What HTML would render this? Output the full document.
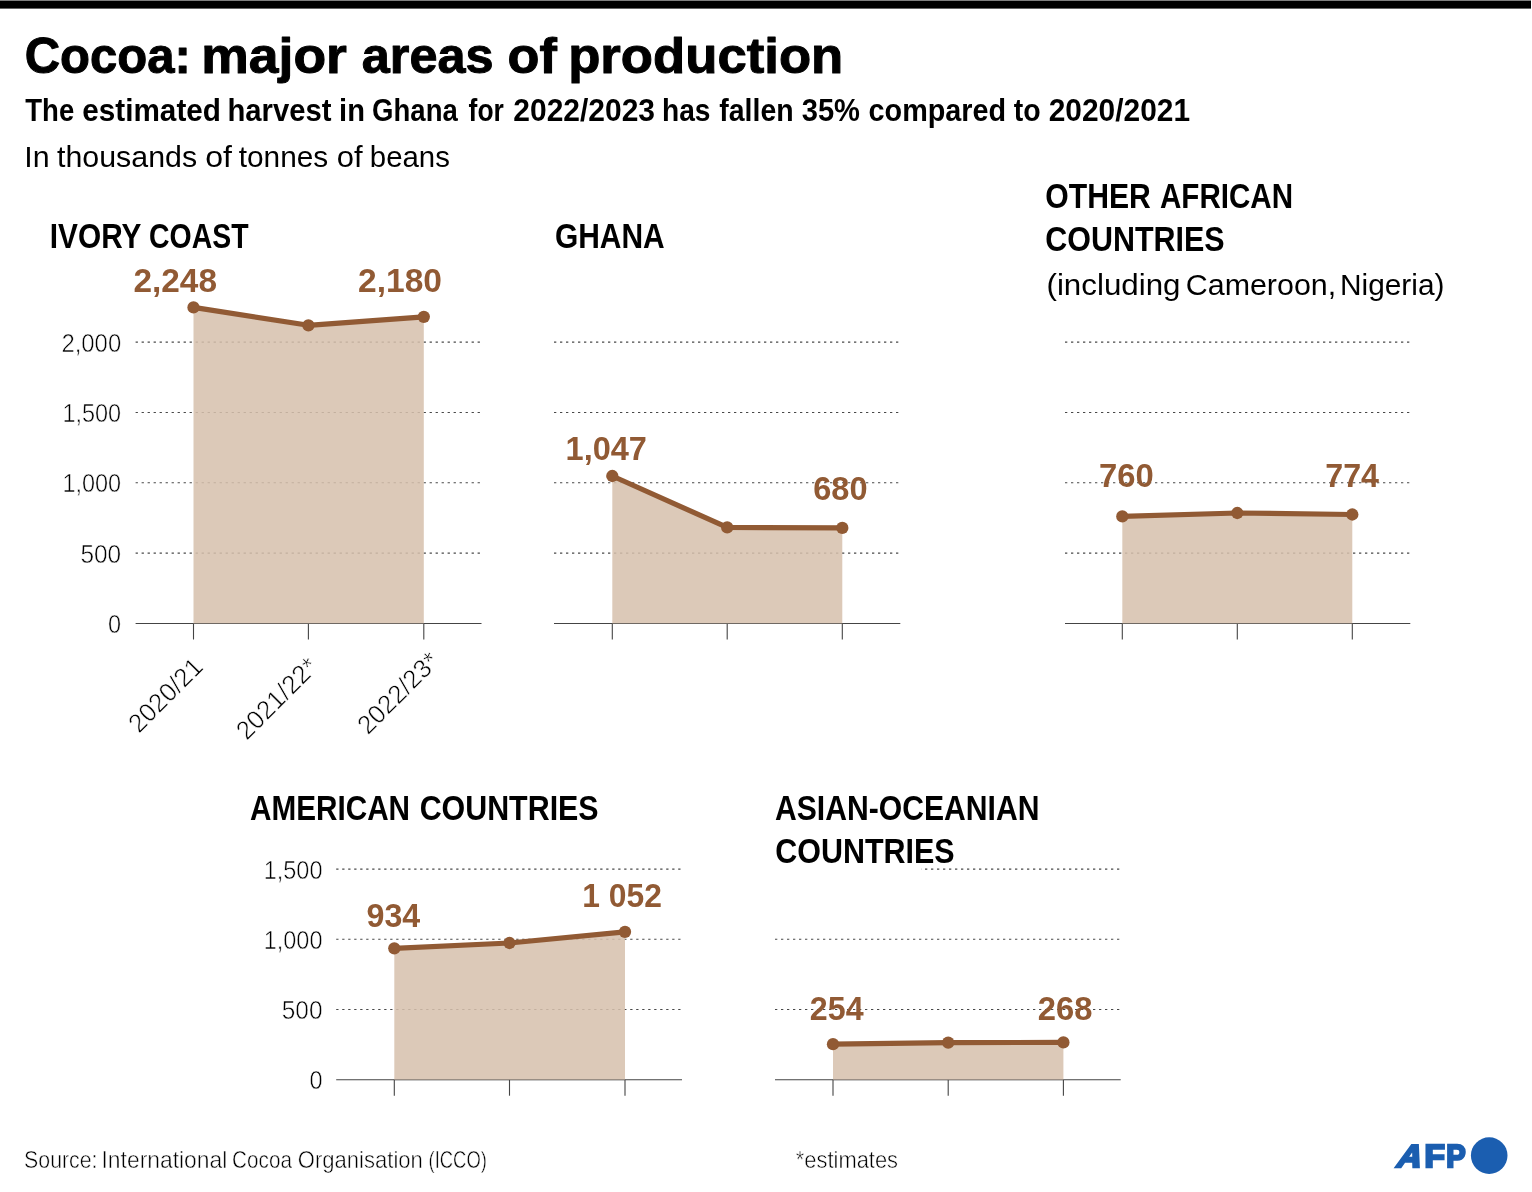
<!DOCTYPE html>
<html lang="en"><head><meta charset="utf-8"><title>Cocoa: major areas of production</title>
<style>
html,body{margin:0;padding:0;background:#fff;}
svg{display:block;font-family:"Liberation Sans",sans-serif;}
.g{stroke:#484848;stroke-width:1.1;stroke-dasharray:2.3 3.7;}
.ax{stroke:#444;stroke-width:1.1;}
.lt{stroke:#fff;stroke-width:0.55px;paint-order:fill stroke;}
.tb{stroke:#000;stroke-width:1px;stroke-linejoin:round;}
.th{stroke:#fff;stroke-width:0.35px;paint-order:fill stroke;}
.lt2{stroke:#fff;stroke-width:0.5px;paint-order:fill stroke;}
</style></head><body>
<svg width="1532" height="1192" viewBox="0 0 1532 1192">
<rect width="1532" height="1192" fill="#fff"/>
<rect x="0" y="0.5" width="1531" height="8.1" fill="#000"/>
<line x1="135.6" y1="553.15" x2="481.5" y2="553.15" class="g"/>
<line x1="135.6" y1="482.80" x2="481.5" y2="482.80" class="g"/>
<line x1="135.6" y1="412.45" x2="481.5" y2="412.45" class="g"/>
<line x1="135.6" y1="342.10" x2="481.5" y2="342.10" class="g"/>
<line x1="135.6" y1="623.5" x2="481.5" y2="623.5" class="ax"/>
<line x1="193.5" y1="623.5" x2="193.5" y2="639.5" class="ax"/>
<line x1="308.4" y1="623.5" x2="308.4" y2="639.5" class="ax"/>
<line x1="423.8" y1="623.5" x2="423.8" y2="639.5" class="ax"/>
<polygon points="193.5,623.5 193.5,307.4 308.4,325.3 423.8,316.8 423.8,623.5" fill="#d6c0ac" fill-opacity="0.86"/>
<line x1="193.5" y1="623.5" x2="423.8" y2="623.5" class="ax" stroke-opacity="0.3"/>
<polyline points="193.5,307.4 308.4,325.3 423.8,316.8" fill="none" stroke="#915a34" stroke-width="5.2" stroke-linejoin="round" stroke-linecap="round"/>
<circle cx="193.5" cy="307.4" r="6.15" fill="#915a34"/>
<circle cx="308.4" cy="325.3" r="6.15" fill="#915a34"/>
<circle cx="423.8" cy="316.8" r="6.15" fill="#915a34"/>
<line x1="554" y1="553.15" x2="900.3" y2="553.15" class="g"/>
<line x1="554" y1="482.80" x2="900.3" y2="482.80" class="g"/>
<line x1="554" y1="412.45" x2="900.3" y2="412.45" class="g"/>
<line x1="554" y1="342.10" x2="900.3" y2="342.10" class="g"/>
<line x1="554" y1="623.5" x2="900.3" y2="623.5" class="ax"/>
<line x1="612.3" y1="623.5" x2="612.3" y2="639.5" class="ax"/>
<line x1="727.2" y1="623.5" x2="727.2" y2="639.5" class="ax"/>
<line x1="842.3" y1="623.5" x2="842.3" y2="639.5" class="ax"/>
<polygon points="612.3,623.5 612.3,476 727.2,527.4 842.3,527.9 842.3,623.5" fill="#d6c0ac" fill-opacity="0.86"/>
<line x1="612.3" y1="623.5" x2="842.3" y2="623.5" class="ax" stroke-opacity="0.3"/>
<polyline points="612.3,476 727.2,527.4 842.3,527.9" fill="none" stroke="#915a34" stroke-width="5.2" stroke-linejoin="round" stroke-linecap="round"/>
<circle cx="612.3" cy="476" r="6.15" fill="#915a34"/>
<circle cx="727.2" cy="527.4" r="6.15" fill="#915a34"/>
<circle cx="842.3" cy="527.9" r="6.15" fill="#915a34"/>
<line x1="1065" y1="553.15" x2="1410.3" y2="553.15" class="g"/>
<line x1="1065" y1="482.80" x2="1410.3" y2="482.80" class="g"/>
<line x1="1065" y1="412.45" x2="1410.3" y2="412.45" class="g"/>
<line x1="1065" y1="342.10" x2="1410.3" y2="342.10" class="g"/>
<line x1="1065" y1="623.5" x2="1410.3" y2="623.5" class="ax"/>
<line x1="1122.3" y1="623.5" x2="1122.3" y2="639.5" class="ax"/>
<line x1="1237.3" y1="623.5" x2="1237.3" y2="639.5" class="ax"/>
<line x1="1352.3" y1="623.5" x2="1352.3" y2="639.5" class="ax"/>
<polygon points="1122.3,623.5 1122.3,516.4 1237.3,513 1352.3,514.5 1352.3,623.5" fill="#d6c0ac" fill-opacity="0.86"/>
<line x1="1122.3" y1="623.5" x2="1352.3" y2="623.5" class="ax" stroke-opacity="0.3"/>
<polyline points="1122.3,516.4 1237.3,513 1352.3,514.5" fill="none" stroke="#915a34" stroke-width="5.2" stroke-linejoin="round" stroke-linecap="round"/>
<circle cx="1122.3" cy="516.4" r="6.15" fill="#915a34"/>
<circle cx="1237.3" cy="513" r="6.15" fill="#915a34"/>
<circle cx="1352.3" cy="514.5" r="6.15" fill="#915a34"/>
<line x1="336.2" y1="1009.50" x2="682" y2="1009.50" class="g"/>
<line x1="336.2" y1="939.30" x2="682" y2="939.30" class="g"/>
<line x1="336.2" y1="869.10" x2="682" y2="869.10" class="g"/>
<line x1="336.2" y1="1079.7" x2="682" y2="1079.7" class="ax"/>
<line x1="394.3" y1="1079.7" x2="394.3" y2="1095.7" class="ax"/>
<line x1="509.5" y1="1079.7" x2="509.5" y2="1095.7" class="ax"/>
<line x1="625" y1="1079.7" x2="625" y2="1095.7" class="ax"/>
<polygon points="394.3,1079.7 394.3,948.3 509.5,943 625,931.8 625,1079.7" fill="#d6c0ac" fill-opacity="0.86"/>
<line x1="394.3" y1="1079.7" x2="625" y2="1079.7" class="ax" stroke-opacity="0.3"/>
<polyline points="394.3,948.3 509.5,943 625,931.8" fill="none" stroke="#915a34" stroke-width="5.2" stroke-linejoin="round" stroke-linecap="round"/>
<circle cx="394.3" cy="948.3" r="6.15" fill="#915a34"/>
<circle cx="509.5" cy="943" r="6.15" fill="#915a34"/>
<circle cx="625" cy="931.8" r="6.15" fill="#915a34"/>
<line x1="775" y1="1009.50" x2="1120.7" y2="1009.50" class="g"/>
<line x1="775" y1="939.30" x2="1120.7" y2="939.30" class="g"/>
<line x1="775" y1="869.10" x2="1120.7" y2="869.10" class="g"/>
<line x1="775" y1="1079.7" x2="1120.7" y2="1079.7" class="ax"/>
<line x1="833" y1="1079.7" x2="833" y2="1095.7" class="ax"/>
<line x1="948.2" y1="1079.7" x2="948.2" y2="1095.7" class="ax"/>
<line x1="1063.4" y1="1079.7" x2="1063.4" y2="1095.7" class="ax"/>
<polygon points="833,1079.7 833,1044.2 948.2,1042.7 1063.4,1042.4 1063.4,1079.7" fill="#d6c0ac" fill-opacity="0.86"/>
<line x1="833" y1="1079.7" x2="1063.4" y2="1079.7" class="ax" stroke-opacity="0.3"/>
<polyline points="833,1044.2 948.2,1042.7 1063.4,1042.4" fill="none" stroke="#915a34" stroke-width="5.2" stroke-linejoin="round" stroke-linecap="round"/>
<circle cx="833" cy="1044.2" r="6.15" fill="#915a34"/>
<circle cx="948.2" cy="1042.7" r="6.15" fill="#915a34"/>
<circle cx="1063.4" cy="1042.4" r="6.15" fill="#915a34"/>
<rect x="770" y="864" width="151.2" height="8" fill="#fff"/>
<text y="72.6" font-size="50.70" font-weight="bold" fill="#000" class="tb"><tspan x="24.66" textLength="166.26" lengthAdjust="spacingAndGlyphs">Cocoa:</tspan> <tspan x="201.34" textLength="145.53" lengthAdjust="spacingAndGlyphs">major</tspan> <tspan x="361.81" textLength="131.68" lengthAdjust="spacingAndGlyphs">areas</tspan> <tspan x="507.57" textLength="49.31" lengthAdjust="spacingAndGlyphs">of</tspan> <tspan x="568.18" textLength="275.10" lengthAdjust="spacingAndGlyphs">production</tspan></text>
<text y="120.6" font-size="30.71" font-weight="bold" fill="#000"><tspan x="25.30" textLength="48.97" lengthAdjust="spacingAndGlyphs">The</tspan> <tspan x="82.23" textLength="138.77" lengthAdjust="spacingAndGlyphs">estimated</tspan> <tspan x="227.50" textLength="104.02" lengthAdjust="spacingAndGlyphs">harvest</tspan> <tspan x="339.10" textLength="25.86" lengthAdjust="spacingAndGlyphs">in</tspan> <tspan x="372.10" textLength="85.67" lengthAdjust="spacingAndGlyphs">Ghana</tspan> <tspan x="468.60" textLength="35.26" lengthAdjust="spacingAndGlyphs">for</tspan> <tspan x="513.32" textLength="141.73" lengthAdjust="spacingAndGlyphs">2022/2023</tspan> <tspan x="661.97" textLength="48.52" lengthAdjust="spacingAndGlyphs">has</tspan> <tspan x="719.30" textLength="74.33" lengthAdjust="spacingAndGlyphs">fallen</tspan> <tspan x="801.70" textLength="58.28" lengthAdjust="spacingAndGlyphs">35%</tspan> <tspan x="868.56" textLength="137.58" lengthAdjust="spacingAndGlyphs">compared</tspan> <tspan x="1013.80" textLength="26.90" lengthAdjust="spacingAndGlyphs">to</tspan> <tspan x="1048.73" textLength="141.35" lengthAdjust="spacingAndGlyphs">2020/2021</tspan></text>
<text y="167.4" font-size="30.00" fill="#000"><tspan x="24.38" textLength="25.33" lengthAdjust="spacingAndGlyphs">In</tspan> <tspan x="57.00" textLength="140.11" lengthAdjust="spacingAndGlyphs">thousands</tspan> <tspan x="205.23" textLength="26.76" lengthAdjust="spacingAndGlyphs">of</tspan> <tspan x="238.70" textLength="89.59" lengthAdjust="spacingAndGlyphs">tonnes</tspan> <tspan x="336.77" textLength="25.85" lengthAdjust="spacingAndGlyphs">of</tspan> <tspan x="369.82" textLength="80.06" lengthAdjust="spacingAndGlyphs">beans</tspan></text>
<text y="248" font-size="35.29" font-weight="bold" fill="#000"><tspan x="49.82" textLength="91.12" lengthAdjust="spacingAndGlyphs">IVORY</tspan> <tspan x="149.09" textLength="99.44" lengthAdjust="spacingAndGlyphs">COAST</tspan></text>
<text y="248" font-size="35.29" font-weight="bold" fill="#000" x="554.95" textLength="109.75" lengthAdjust="spacingAndGlyphs">GHANA</text>
<text y="207.5" font-size="35.29" font-weight="bold" fill="#000"><tspan x="1045.34" textLength="105.56" lengthAdjust="spacingAndGlyphs">OTHER</tspan> <tspan x="1160.00" textLength="133.03" lengthAdjust="spacingAndGlyphs">AFRICAN</tspan></text>
<text y="250.5" font-size="35.29" font-weight="bold" fill="#000" x="1045.34" textLength="179.31" lengthAdjust="spacingAndGlyphs">COUNTRIES</text>
<text y="294.5" font-size="30.00" fill="#000"><tspan x="1046.46" textLength="134.10" lengthAdjust="spacingAndGlyphs">(including</tspan> <tspan x="1185.79" textLength="150.38" lengthAdjust="spacingAndGlyphs">Cameroon,</tspan> <tspan x="1340.01" textLength="104.47" lengthAdjust="spacingAndGlyphs">Nigeria)</tspan></text>
<text y="820" font-size="35.29" font-weight="bold" fill="#000"><tspan x="250.00" textLength="160.04" lengthAdjust="spacingAndGlyphs">AMERICAN</tspan> <tspan x="419.64" textLength="179.01" lengthAdjust="spacingAndGlyphs">COUNTRIES</tspan></text>
<text y="820" font-size="35.29" font-weight="bold" fill="#000" x="775.00" textLength="264.45" lengthAdjust="spacingAndGlyphs">ASIAN-OCEANIAN</text>
<text y="863" font-size="35.29" font-weight="bold" fill="#000" x="775.34" textLength="179.31" lengthAdjust="spacingAndGlyphs">COUNTRIES</text>
<text y="291.65000000000003" font-size="33.79" font-weight="bold" fill="#915a34" x="133.41" textLength="83.56" lengthAdjust="spacingAndGlyphs">2,248</text>
<text y="291.65000000000003" font-size="33.79" font-weight="bold" fill="#915a34" x="358.01" textLength="83.97" lengthAdjust="spacingAndGlyphs">2,180</text>
<text y="459.55" font-size="33.79" font-weight="bold" fill="#915a34" x="565.57" textLength="81.38" lengthAdjust="spacingAndGlyphs">1,047</text>
<text y="499.85" font-size="33.79" font-weight="bold" fill="#915a34" x="813.24" textLength="54.32" lengthAdjust="spacingAndGlyphs">680</text>
<text y="487.35" font-size="33.79" font-weight="bold" fill="#915a34" x="1099.03" textLength="54.73" lengthAdjust="spacingAndGlyphs">760</text>
<text y="487.35" font-size="33.79" font-weight="bold" fill="#915a34" x="1325.25" textLength="53.74" lengthAdjust="spacingAndGlyphs">774</text>
<text y="927.35" font-size="33.79" font-weight="bold" fill="#915a34" x="366.55" textLength="53.74" lengthAdjust="spacingAndGlyphs">934</text>
<text y="907.35" font-size="33.79" font-weight="bold" fill="#915a34" x="582.32" textLength="79.62" lengthAdjust="spacingAndGlyphs">1 052</text>
<text y="1019.5500000000001" font-size="33.79" font-weight="bold" fill="#915a34" x="809.85" textLength="53.74" lengthAdjust="spacingAndGlyphs">254</text>
<text y="1019.5500000000001" font-size="33.79" font-weight="bold" fill="#915a34" x="1037.83" textLength="54.73" lengthAdjust="spacingAndGlyphs">268</text>
<text y="1168.4" font-size="23.19" fill="#000" class="lt2"><tspan x="24.08" textLength="73.44" lengthAdjust="spacingAndGlyphs">Source:</tspan> <tspan x="101.53" textLength="125.81" lengthAdjust="spacingAndGlyphs">International</tspan> <tspan x="232.11" textLength="59.79" lengthAdjust="spacingAndGlyphs">Cocoa</tspan> <tspan x="297.85" textLength="125.00" lengthAdjust="spacingAndGlyphs">Organisation</tspan> <tspan x="428.50" textLength="58.37" lengthAdjust="spacingAndGlyphs">(ICCO)</tspan></text>
<text y="1168.4" font-size="23.19" fill="#000" class="lt2" x="795.80" textLength="102.25" lengthAdjust="spacingAndGlyphs">*estimates</text>
<text y="633.0" font-size="25.94" fill="#000" class="lt" x="108.09" textLength="13.09" lengthAdjust="spacingAndGlyphs">0</text>
<text y="562.6" font-size="25.94" fill="#000" class="lt" x="80.46" textLength="40.74" lengthAdjust="spacingAndGlyphs">500</text>
<text y="492.3" font-size="25.94" fill="#000" class="lt" x="62.39" textLength="58.79" lengthAdjust="spacingAndGlyphs">1,000</text>
<text y="422.0" font-size="25.94" fill="#000" class="lt" x="62.39" textLength="58.79" lengthAdjust="spacingAndGlyphs">1,500</text>
<text y="351.6" font-size="25.94" fill="#000" class="lt" x="61.38" textLength="59.81" lengthAdjust="spacingAndGlyphs">2,000</text>
<text y="1089.2" font-size="25.94" fill="#000" class="lt" x="309.39" textLength="13.09" lengthAdjust="spacingAndGlyphs">0</text>
<text y="1019.0" font-size="25.94" fill="#000" class="lt" x="281.76" textLength="40.74" lengthAdjust="spacingAndGlyphs">500</text>
<text y="948.8" font-size="25.94" fill="#000" class="lt" x="263.69" textLength="58.79" lengthAdjust="spacingAndGlyphs">1,000</text>
<text y="878.6" font-size="25.94" fill="#000" class="lt" x="263.69" textLength="58.79" lengthAdjust="spacingAndGlyphs">1,500</text>
<text transform="translate(204.5,668.3) rotate(-45) scale(0.99,1.0)" font-size="25.94" fill="#000" text-anchor="end" class="lt">2020/21</text>
<text transform="translate(319.4,668.3) rotate(-45) scale(0.99,1.0)" font-size="25.94" fill="#000" text-anchor="end" class="lt">2021/22*</text>
<text transform="translate(440.6,662.8) rotate(-45) scale(0.99,1.0)" font-size="25.94" fill="#000" text-anchor="end" class="lt">2022/23*</text>
<g font-weight="bold" font-size="31.7" fill="#1b5eb0" stroke="#1b5eb0" stroke-width="2.4" stroke-linejoin="miter">
<text transform="translate(1395.1,1166.8) skewX(-19)" textLength="24.4" lengthAdjust="spacingAndGlyphs">A</text>
<text x="1424.4" y="1166.8" textLength="20.4" lengthAdjust="spacingAndGlyphs">F</text>
<text x="1446.2" y="1166.8" textLength="19.4" lengthAdjust="spacingAndGlyphs">P</text>
</g>
<circle cx="1489.2" cy="1155.6" r="18.3" fill="#1b5eb0"/>
</svg></body></html>
